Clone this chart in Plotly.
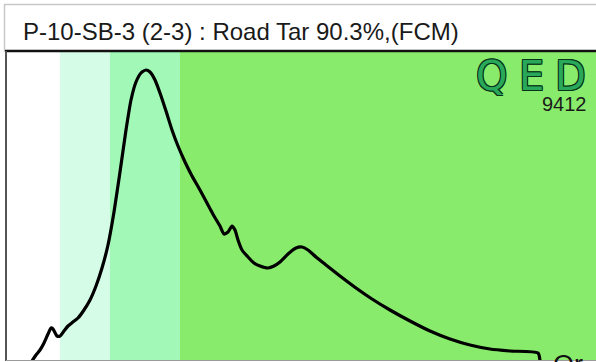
import plotly.graph_objects as go

# Chromatogram trace: retention time (min) vs detector response
rt_min = [0.65, 0.75, 0.85, 0.95, 1.05, 1.125, 1.175, 1.275, 1.35, 1.45, 1.55, 1.675, 1.8,
          1.95, 2.1, 2.25, 2.4, 2.55, 2.7, 2.85, 3.0, 3.125, 3.25, 3.375, 3.5, 3.6, 3.725,
          3.85, 4.0, 4.15, 4.3, 4.475, 4.65, 4.85, 5.025, 5.2, 5.35, 5.45, 5.55, 5.65, 5.725,
          5.8, 5.9, 6.05, 6.2, 6.35, 6.55, 6.7, 6.85, 7.05, 7.25, 7.4, 7.55, 7.75, 8.0, 8.35,
          8.75, 9.15, 9.6, 10.1, 10.6, 11.1, 11.6, 12.1, 12.6, 13.3, 13.35]
response = [-2, 4, 9, 16, 25, 31, 30, 23, 23, 28, 33, 37, 41,
            49, 59, 73, 91, 114, 147, 187, 229, 259, 277, 286, 289, 287, 279,
            266, 248, 229, 213, 197, 183, 169, 156, 143, 133, 125, 127, 133, 129,
            119, 109, 102, 96, 93, 91, 93, 97, 105, 111, 112, 109, 102, 94, 83,
            71, 60, 49, 38, 28, 20, 14, 10, 8, 6, -2]

# Shaded hydrocarbon ranges (start, end in min) and their fills
band_edges = [(1.35, 2.6), (2.6, 4.35), (4.35, 14.75)]
band_colors = ["#d4fce6", "#a2f9b7", "#89eb6c"]

title_text = "P-10-SB-3 (2-3) : Road Tar 90.3%,(FCM)"
logo_letters = ["Q", "E", "D"]
logo_number = "9412"

W, H = 596, 362
L, T, B = 6, 52, 360          # plot-area pixel edges
PW, PH = W - L, B - T


def px(x):
    return (x - L) / PW


def py(y):
    return (B - y) / PH


fig = go.Figure()

for (x0, x1), c in zip(band_edges, band_colors):
    fig.add_shape(type="rect", xref="x", yref="paper", x0=x0, x1=x1, y0=0, y1=1,
                  fillcolor=c, line_width=0, layer="below")

fig.add_trace(go.Scatter(x=rt_min, y=response, mode="lines",
                         line=dict(color="black", width=3.2, shape="spline", smoothing=0.6),
                         hoverinfo="skip"))

# Frame lines
frame = [
    dict(x0=px(4), x1=px(W), y0=py(4.5), y1=py(4.5), line=dict(color="#c8c8c8", width=1.5)),
    dict(x0=px(4.5), x1=px(4.5), y0=py(4), y1=py(52), line=dict(color="#c8c8c8", width=1.5)),
    dict(x0=px(5), x1=px(W), y0=py(51), y1=py(51), line=dict(color="#111111", width=2.5)),
    dict(x0=px(6), x1=px(6), y0=py(51), y1=py(361), line=dict(color="#555555", width=2)),
    dict(x0=px(6), x1=px(W), y0=py(360.5), y1=py(360.5), line=dict(color="#9a9a9a", width=1)),
]
for f in frame:
    fig.add_shape(type="line", xref="paper", yref="paper", **f)

ann = []
ann.append(dict(text=title_text, x=px(21), y=py(31), xanchor="left", yanchor="middle",
                font=dict(family="Liberation Sans", size=24, color="#1a1a1a")))

outline = ("1px 1px 0 #06331a, -1px -1px 0 #06331a, 1px -1px 0 #06331a, "
           "-1px 1px 0 #06331a, 0 1px 0 #06331a, 0 -1px 0 #06331a")
for letter, cx in zip(logo_letters, [491, 531, 570]):
    ann.append(dict(text=letter, x=px(cx), y=py(76), xanchor="center", yanchor="middle",
                    font=dict(family="DejaVu Sans", size=40, color="#2aa85a",
                              shadow=outline)))
ann.append(dict(text=logo_number, x=px(589), y=py(104), xanchor="right", yanchor="middle",
                font=dict(family="Liberation Sans", size=20, color="#1a1a1a")))
ann.append(dict(text="Or", x=px(551), y=py(348), xanchor="left", yanchor="top",
                font=dict(family="Liberation Sans", size=27, color="#111111")))

for a in ann:
    a.update(xref="paper", yref="paper", showarrow=False)

fig.update_layout(
    width=W, height=H,
    margin=dict(l=L, r=0, t=T, b=H - B, pad=0),
    paper_bgcolor="white", plot_bgcolor="white",
    showlegend=False,
    annotations=ann,
    xaxis=dict(range=[0, PW / 40.0], visible=False, fixedrange=True),
    yaxis=dict(range=[-1, 307], visible=False, fixedrange=True),
)

fig.write_html("out.html", config={"displayModeBar": False})
